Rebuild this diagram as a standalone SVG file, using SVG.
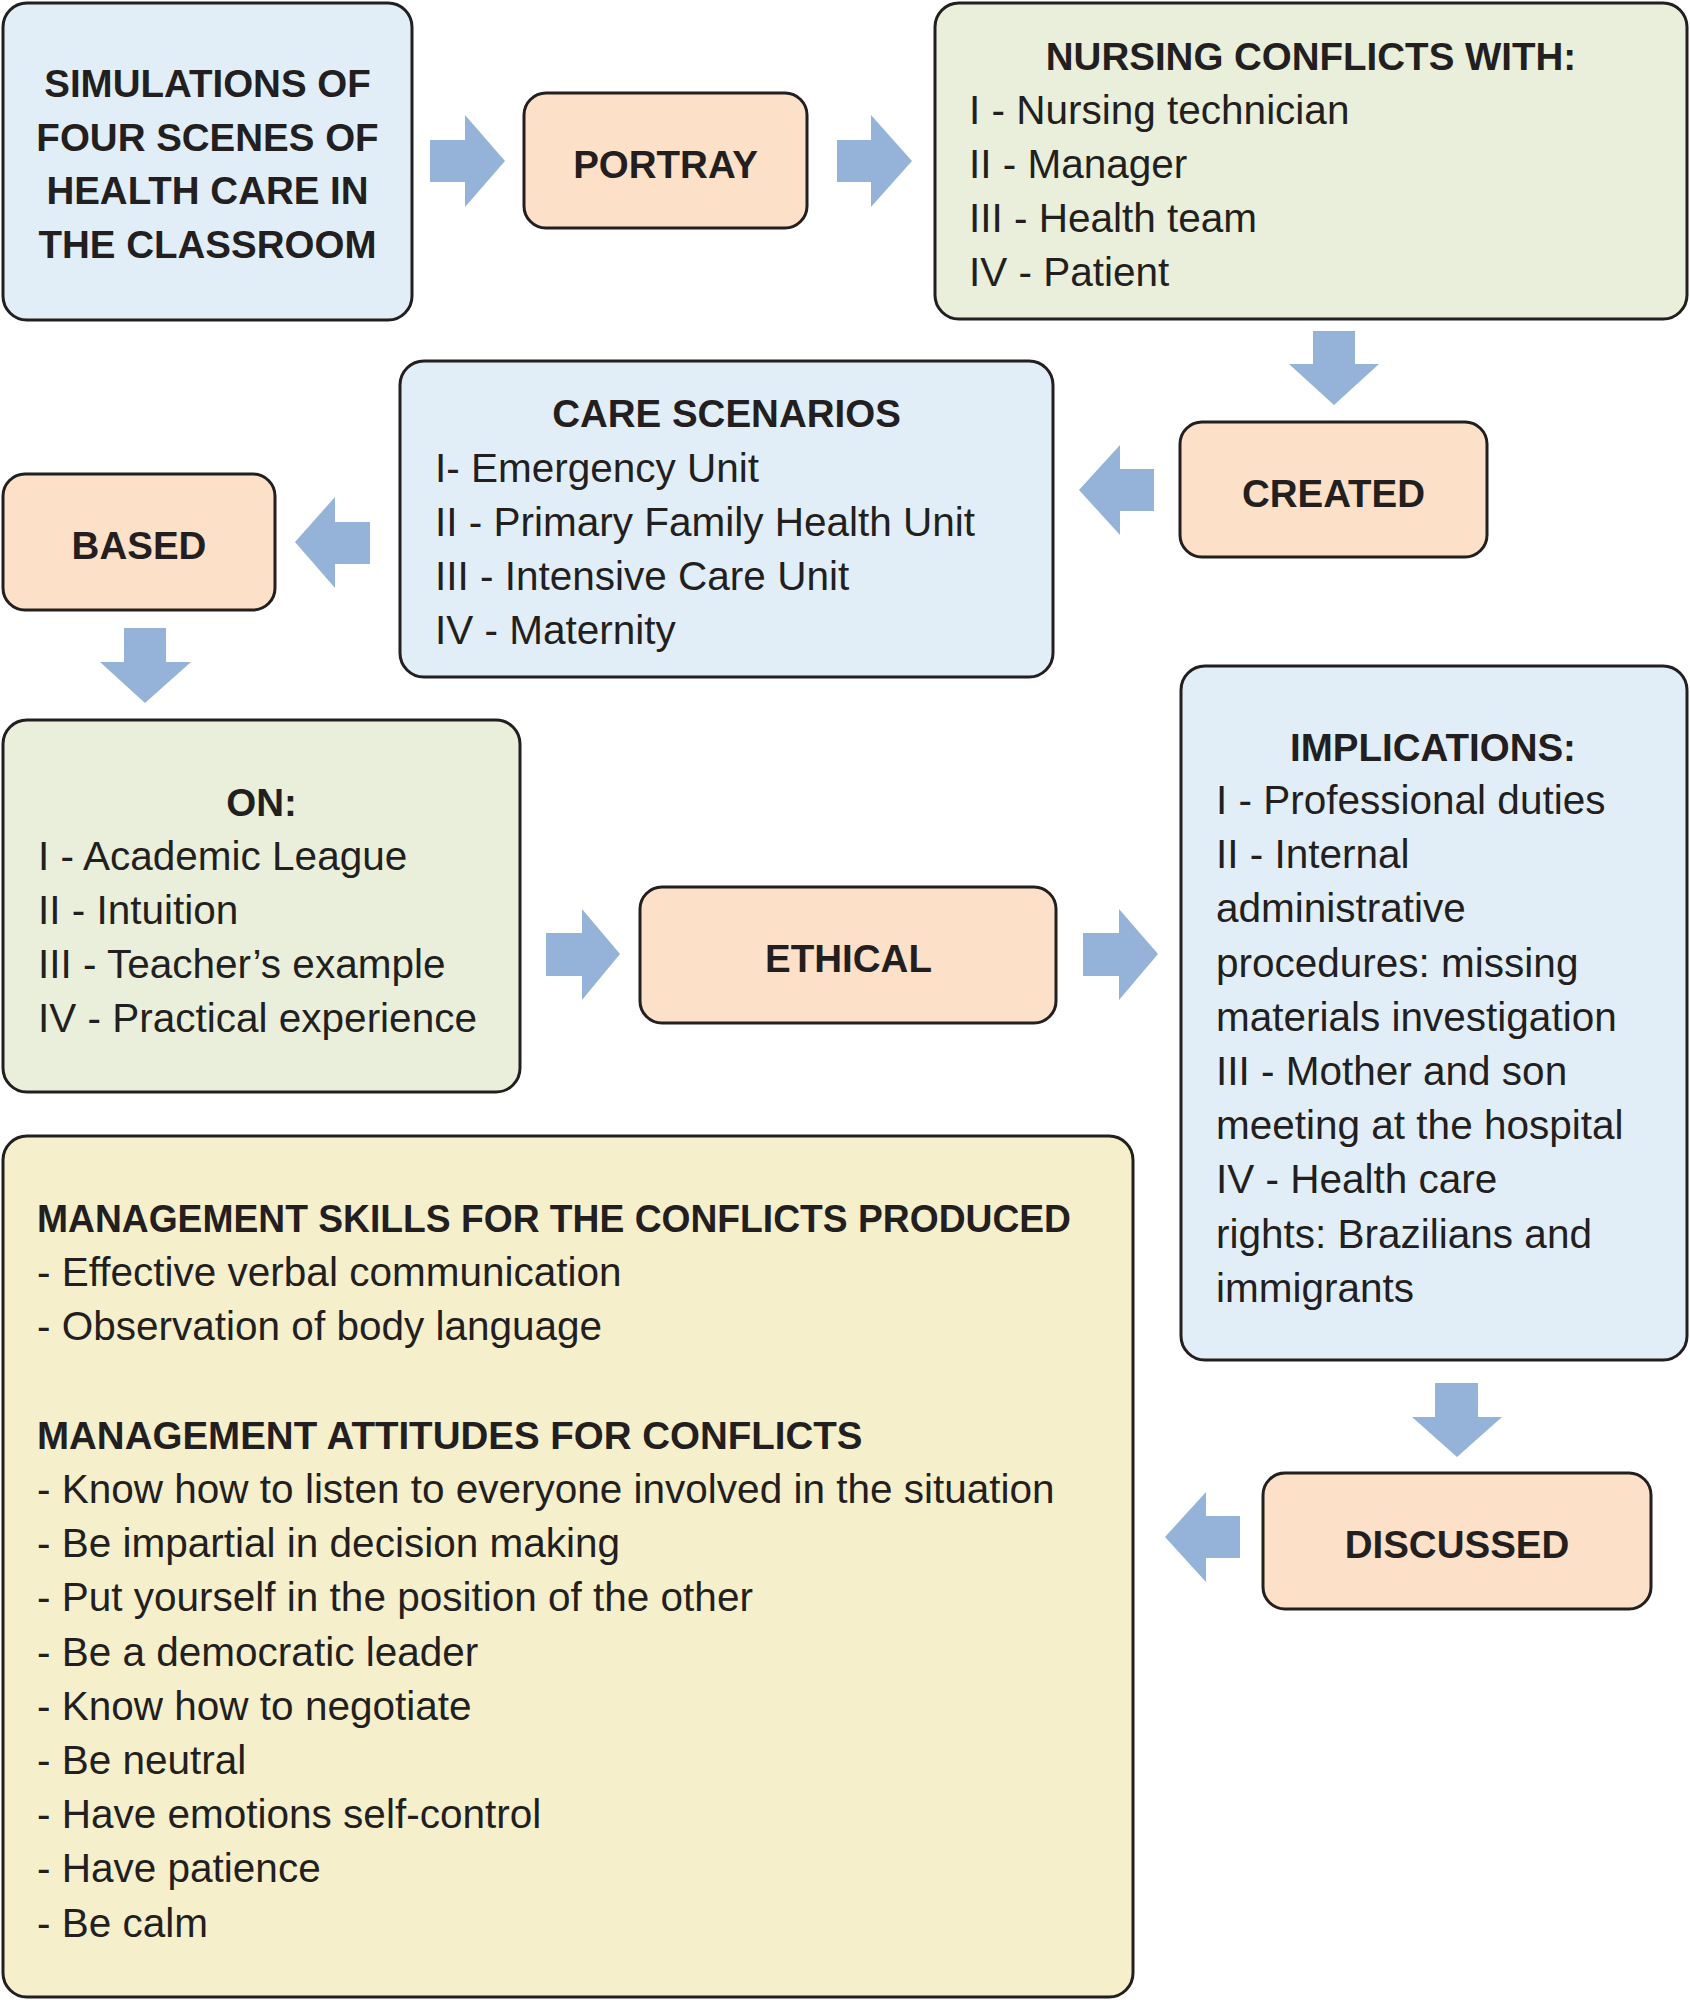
<svg xmlns="http://www.w3.org/2000/svg" width="1690" height="2000" viewBox="0 0 1690 2000">
<style>
.box{stroke:#231F20;stroke-width:3}
.blue{fill:#E2EEF7}
.green{fill:#E9EFDA}
.peach{fill:#FCE0C7}
.yellow{fill:#F6EFCC}
.arr{fill:#95B3D8}
text{font-family:"Liberation Sans",Arial,sans-serif;fill:#231F20}
.b{font-weight:bold;font-size:38.5px}
.r{font-size:40.5px}
.c{text-anchor:middle}
</style>
<rect width="1690" height="2000" fill="#FFFFFF"/>

<g id="simulations">
<rect class="box blue" x="3" y="3" width="409" height="317" rx="24"/>
<text class="b c" x="207.5" y="97">SIMULATIONS OF</text>
<text class="b c" x="207.5" y="150.5">FOUR SCENES OF</text>
<text class="b c" x="207.5" y="204">HEALTH CARE IN</text>
<text class="b c" x="207.5" y="258">THE CLASSROOM</text>
</g>

<g id="portray">
<rect class="box peach" x="524" y="93" width="283" height="135" rx="22"/>
<text class="b c" x="665.5" y="178">PORTRAY</text>
</g>

<g id="nursing">
<rect class="box green" x="935" y="3" width="752" height="316" rx="24"/>
<text class="b c" x="1311" y="70">NURSING CONFLICTS WITH:</text>
<text class="r" x="969" y="124">I - Nursing technician</text>
<text class="r" x="969" y="178">II - Manager</text>
<text class="r" x="969" y="232">III - Health team</text>
<text class="r" x="969" y="286">IV - Patient</text>
</g>

<g id="created">
<rect class="box peach" x="1180" y="422" width="307" height="135" rx="22"/>
<text class="b c" x="1333.5" y="507">CREATED</text>
</g>

<g id="care">
<rect class="box blue" x="400" y="361" width="653" height="316" rx="24"/>
<text class="b c" x="726.5" y="427">CARE SCENARIOS</text>
<text class="r" x="435" y="482">I- Emergency Unit</text>
<text class="r" x="435" y="536">II - Primary Family Health Unit</text>
<text class="r" x="435" y="590">III - Intensive Care Unit</text>
<text class="r" x="435" y="644">IV - Maternity</text>
</g>

<g id="based">
<rect class="box peach" x="3" y="474" width="272" height="136" rx="22"/>
<text class="b c" x="139" y="559">BASED</text>
</g>

<g id="on">
<rect class="box green" x="3" y="720" width="517" height="372" rx="24"/>
<text class="b c" x="261.5" y="816">ON:</text>
<text class="r" x="38" y="870">I - Academic League</text>
<text class="r" x="38" y="924">II - Intuition</text>
<text class="r" x="38" y="978">III - Teacher’s example</text>
<text class="r" x="38" y="1032">IV - Practical experience</text>
</g>

<g id="ethical">
<rect class="box peach" x="640" y="887" width="416" height="136" rx="22"/>
<text class="b c" x="848.5" y="972">ETHICAL</text>
</g>

<g id="implications">
<rect class="box blue" x="1181" y="666" width="506" height="694" rx="24"/>
<text class="b c" x="1433" y="761">IMPLICATIONS:</text>
<text class="r" x="1216" y="814">I - Professional duties</text>
<text class="r" x="1216" y="868.2">II - Internal</text>
<text class="r" x="1216" y="922.4">administrative</text>
<text class="r" x="1216" y="976.6">procedures: missing</text>
<text class="r" x="1216" y="1030.8">materials investigation</text>
<text class="r" x="1216" y="1085">III - Mother and son</text>
<text class="r" x="1216" y="1139.2">meeting at the hospital</text>
<text class="r" x="1216" y="1193.4">IV - Health care</text>
<text class="r" x="1216" y="1247.6">rights: Brazilians and</text>
<text class="r" x="1216" y="1301.8">immigrants</text>
</g>

<g id="discussed">
<rect class="box peach" x="1263" y="1473" width="388" height="136" rx="22"/>
<text class="b c" x="1457" y="1558">DISCUSSED</text>
</g>

<g id="management">
<rect class="box yellow" x="3" y="1136" width="1130" height="861" rx="24"/>
<text class="b" x="37" y="1232" textLength="1034" lengthAdjust="spacingAndGlyphs">MANAGEMENT SKILLS FOR THE CONFLICTS PRODUCED</text>
<text class="r" x="37" y="1286.2">- Effective verbal communication</text>
<text class="r" x="37" y="1340.4">- Observation of body language</text>
<text class="b" x="37" y="1448.8">MANAGEMENT ATTITUDES FOR CONFLICTS</text>
<text class="r" x="37" y="1503">- Know how to listen to everyone involved in the situation</text>
<text class="r" x="37" y="1557.2">- Be impartial in decision making</text>
<text class="r" x="37" y="1611.4">- Put yourself in the position of the other</text>
<text class="r" x="37" y="1665.6">- Be a democratic leader</text>
<text class="r" x="37" y="1719.8">- Know how to negotiate</text>
<text class="r" x="37" y="1774">- Be neutral</text>
<text class="r" x="37" y="1828.2">- Have emotions self-control</text>
<text class="r" x="37" y="1882.4">- Have patience</text>
<text class="r" x="37" y="1936.6">- Be calm</text>
</g>

<g id="connectors">
<path class="arr" d="M430,140 H465 V115 L505,161 L465,207 V182 H430 Z"/>
<path class="arr" d="M837,140 H871 V115 L912,161 L871,207 V182 H837 Z"/>
<path class="arr" d="M1313,331 H1355 V364 H1379 L1334,405 L1289,364 H1313 Z"/>
<path class="arr" d="M1154,469 V511 H1120 V535 L1079,490 L1120,445 V469 Z"/>
<path class="arr" d="M370,522 V564 H335 V588 L295,542 L335,497 V522 Z"/>
<path class="arr" d="M124,628 H166 V662 H191 L145,703 L100,662 H124 Z"/>
<path class="arr" d="M546,933 H582 V909 L620,954 L582,1000 V976 H546 Z"/>
<path class="arr" d="M1083,933 H1119 V909 L1158,954 L1119,1000 V976 H1083 Z"/>
<path class="arr" d="M1435,1383 H1478 V1417 H1502 L1457,1457 L1412,1417 H1435 Z"/>
<path class="arr" d="M1240,1516 V1558 H1206 V1582 L1165,1537 L1206,1492 V1516 Z"/>
</g>
</svg>
